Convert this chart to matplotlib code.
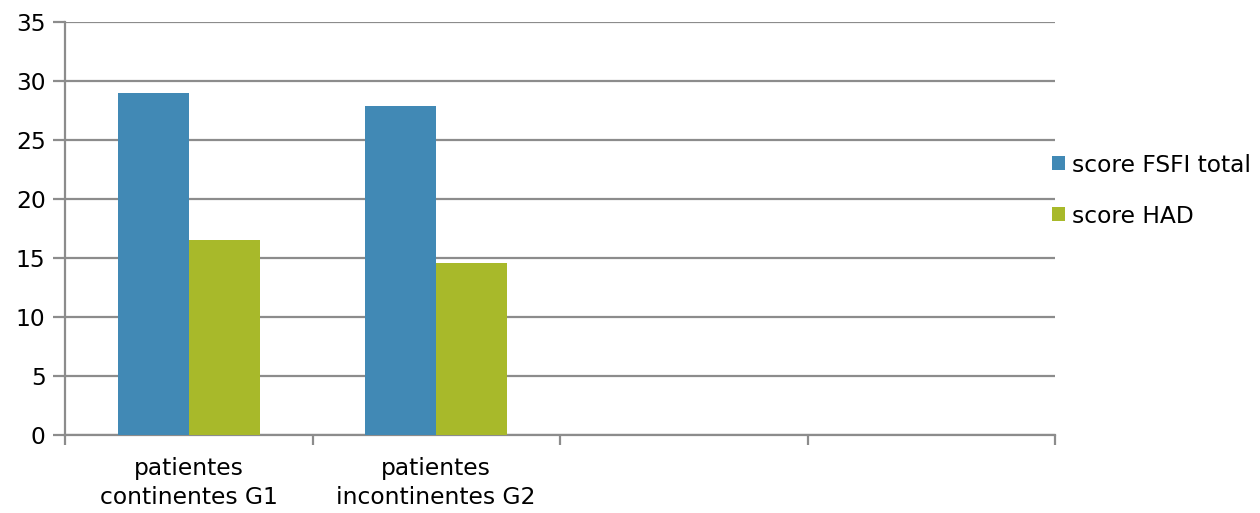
import matplotlib
matplotlib.use("Agg")
import matplotlib.pyplot as plt
import numpy as np

categories = ["patientes\ncontinentes G1", "patientes\nincontinentes G2", "", ""]
fsfi = [29.0, 27.9, None, None]
had = [16.5, 14.6, None, None]
series_names = ["score FSFI total", "score HAD"]
yticks = [0, 5, 10, 15, 20, 25, 30, 35]

blue = "#4189b5"
green = "#a8b92a"
grey = "#8c8c8c"

plt.rcParams['font.family'] = ['DejaVu Sans']

fig = plt.figure(figsize=(12.6, 5.13), dpi=100)
ax = fig.add_axes([65/1260, 1-435/513, (1055-65)/1260, (435-22)/513])

x = np.arange(len(categories))
w = 0.287
fv = [v if v is not None else 0 for v in fsfi]
hv = [v if v is not None else 0 for v in had]
ax.bar(x - w/2, fv, width=w, color=blue, label=series_names[0], zorder=3)
ax.bar(x + w/2, hv, width=w, color=green, label=series_names[1], zorder=3)

ax.set_ylim(0, 35)
ax.set_xlim(-0.5, len(categories) - 0.5)
ax.set_yticks(yticks)
ax.yaxis.grid(True, color=grey, linewidth=1.6, zorder=0)
ax.set_axisbelow(True)

# category boundaries as major ticks, labels as minor ticks
ax.set_xticks(np.arange(-0.5, len(categories), 1.0))
ax.set_xticklabels([])
ax.set_xticks(x, minor=True)
ax.set_xticklabels(categories, minor=True, fontsize=16.8, linespacing=1.3)
ax.tick_params(axis='x', which='minor', length=0, pad=16)
ax.tick_params(axis='x', which='major', length=7, width=1.6, color=grey)
ax.tick_params(axis='y', length=9, width=1.6, color=grey, labelsize=16.8, pad=5)

for s in ["top", "right"]:
    ax.spines[s].set_visible(False)
for s in ["left", "bottom"]:
    ax.spines[s].set_color(grey)
    ax.spines[s].set_linewidth(1.6)

leg = ax.legend(loc="center left", bbox_to_anchor=(0.9874, 0.592), frameon=False,
                fontsize=16.8, handlelength=0.55, handleheight=0.55,
                handletextpad=0.3, labelspacing=1.2, borderaxespad=0)

fig.savefig("out.png", dpi=100)
